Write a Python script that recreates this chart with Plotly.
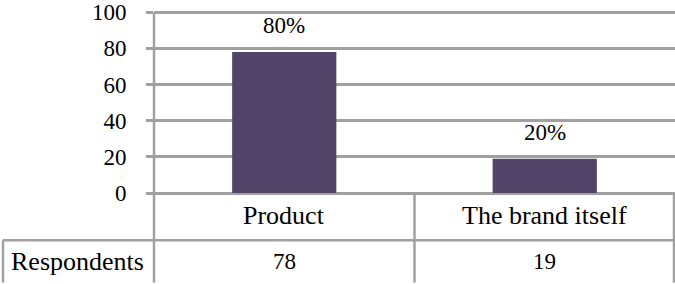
import plotly.graph_objects as go

categories = ["Product", "The brand itself"]
respondents = [78, 19]
pct_labels = ["80%", "20%"]
row_label = "Respondents"
y_ticks = [0, 20, 40, 60, 80, 100]

W, H = 675, 284
L, R, T, B = 154, 0, 2, 91
plot_h = H - T - B
plot_w = W - L - R

def py(pix):
    return (H - B - pix) / plot_h

def px(pix):
    return (pix - L) / plot_w

GRID = "#a0a0a0"
FONT = "'Liberation Serif', 'Times New Roman', 'DejaVu Serif', serif"
FS_NUM = 23
FS_TXT = 26

fig = go.Figure()
fig.add_trace(go.Bar(
    x=categories, y=respondents, width=0.4,
    marker=dict(color="#524468", line=dict(width=0)),
    hoverinfo="skip", showlegend=False,
))

ann = []
for c, v, t in zip(categories, respondents, pct_labels):
    ann.append(dict(x=c, y=v, xref="x", yref="y", text=t, showarrow=False,
                    yanchor="bottom", yshift=12, font=dict(family=FONT, size=FS_NUM, color="black")))
    ann.append(dict(x=c, y=py(216), xref="x", yref="paper", text=c, showarrow=False,
                    yanchor="middle", font=dict(family=FONT, size=FS_TXT, color="black")))
for c, v in zip(categories, respondents):
    ann.append(dict(x=c, y=py(263), xref="x", yref="paper", text=str(v), showarrow=False,
                    yanchor="middle", font=dict(family=FONT, size=FS_NUM, color="black")))
ann.append(dict(x=px(77), y=py(263), xref="paper", yref="paper", text=row_label,
                showarrow=False, yanchor="middle", xanchor="center",
                font=dict(family=FONT, size=FS_TXT, color="black")))

shapes = []
def line(x0, y0, x1, y1):
    shapes.append(dict(type="line", xref="paper", yref="paper",
                       x0=px(x0), y0=py(y0), x1=px(x1), y1=py(y1),
                       line=dict(color=GRID, width=2.5), layer="above"))
line(3, 241, 675, 241)
line(154, 193, 154, 284)
line(414.5, 193, 414.5, 284)
line(674, 193, 674, 284)
line(3, 241, 3, 284)
line(154, 9.5, 154, 193)

fig.update_layout(
    width=W, height=H,
    margin=dict(l=L, r=R, t=T, b=B, pad=0),
    plot_bgcolor="white", paper_bgcolor="white",
    font=dict(family=FONT, size=FS_NUM, color="black"),
    xaxis=dict(range=[-0.5, 1.5], showticklabels=False, showgrid=False,
               zeroline=False, showline=False, ticks=""),
    yaxis=dict(range=[0, 104], tickvals=y_ticks, showgrid=True, gridcolor=GRID, gridwidth=2.5,
               zeroline=True, zerolinecolor=GRID, zerolinewidth=2.5,
               showline=False, ticklabeloverflow="allow",
               ticks="outside", ticklen=7, tickcolor=GRID, tickwidth=2.5,
               ticklabelstandoff=15,
               tickfont=dict(family=FONT, size=FS_NUM, color="black")),
    annotations=ann, shapes=shapes,
    bargap=0.6,
)

fig.write_html("out.html", config={"displayModeBar": False},
               post_script="document.body.style.margin='0';document.body.style.padding='0';")
